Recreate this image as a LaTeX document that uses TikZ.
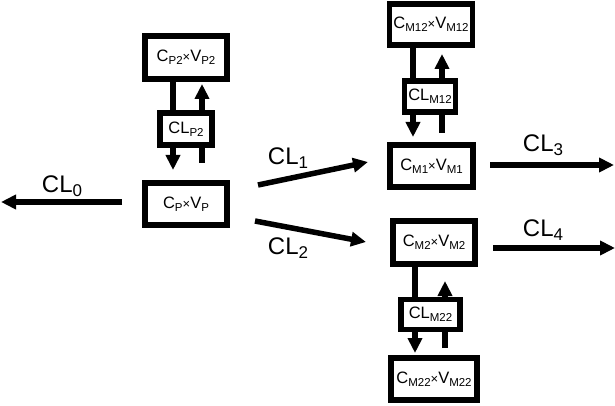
\documentclass[tikz,border=0pt]{standalone}
\usepackage{fontspec}
\setmainfont{Liberation Sans}
\usetikzlibrary{arrows.meta}
\newcommand\sbx[1]{\raisebox{-0.3ex}{\fontsize{11.5}{13}\selectfont #1}}
\newcommand\tms{{\fontsize{13}{14}\selectfont ×}}
\newcommand\sbl[1]{\raisebox{-0.35ex}{\fontsize{17}{19}\selectfont #1}}
\tikzset{
  box/.style={draw, line width=5.5pt, fill=white, inner sep=0pt, font=\fontsize{16.5}{18}\selectfont},
  flow/.style={line width=5.5pt, -{Triangle[length=15pt,width=14pt]}},
  lab/.style={font=\fontsize{24}{26}\selectfont, inner sep=0pt}
}
\begin{document}
\begin{tikzpicture}[x=1pt,y=-1pt]
\useasboundingbox (0,0) rectangle (615,406);
% compartment boxes
\node[box, minimum width=82pt, minimum height=43pt] (P2) at (186,57.5) {C\sbx{P2}\tms V\sbx{P2}};
\node[box, minimum width=82pt, minimum height=42pt] (P) at (186,204) {C\sbx{P}\tms V\sbx{P}};
\node[box, minimum width=83pt, minimum height=41pt] (M12) at (431,24.5) {C\sbx{M12}\tms V\sbx{M12}};
\node[box, minimum width=83pt, minimum height=42pt] (M1) at (431.5,166) {C\sbx{M1}\tms V\sbx{M1}};
\node[box, minimum width=82pt, minimum height=43pt] (M2) at (434,242.5) {C\sbx{M2}\tms V\sbx{M2}};
\node[box, minimum width=86pt, minimum height=42pt] (M22) at (434,379) {C\sbx{M22}\tms V\sbx{M22}};
% vertical exchange arrows
\coordinate (p2d) at (173,170);
\coordinate (p2u) at (202,163);
\draw[flow] (P2.south -| p2d) -- (p2d);
\draw[flow] (p2u) -- (202,84);
\coordinate (m12d) at (413,137);
\coordinate (m12u) at (442,133);
\draw[flow] (M12.south -| m12d) -- (m12d);
\draw[flow] (m12u) -- (442,54);
\coordinate (m22d) at (415,353);
\coordinate (m22u) at (445,348);
\draw[flow] (M2.south -| m22d) -- (m22d);
\draw[flow] (m22u) -- (445,281);
% clearance boxes on top
\node[box, minimum width=52pt, minimum height=32pt] (CLP2) at (186,129) {CL\sbx{P2}};
\node[box, minimum width=51pt, minimum height=31pt] (CLM12) at (430,96.5) {CL\sbx{M12}};
\node[box, minimum width=59pt, minimum height=30pt] (CLM22) at (430.5,314.5) {CL\sbx{M22}};
% outgoing flows
\coordinate (e0) at (1,202);
\coordinate (s0) at (122,202);
\draw[flow] (s0) -- (e0);
\node[lab] (l0) at (62,186) {CL\sbl{0}};
\coordinate (s1) at (258,185);
\coordinate (e1) at (368,162);
\draw[flow] (s1) -- (e1);
\node[lab] (l1) at (288,158) {CL\sbl{1}};
\coordinate (s2) at (255,221);
\coordinate (e2) at (366,242);
\draw[flow] (s2) -- (e2);
\node[lab] (l2) at (288,248) {CL\sbl{2}};
\coordinate (s3) at (490,165);
\coordinate (e3) at (614,165);
\draw[flow] (s3) -- (e3);
\node[lab] (l3) at (543,145) {CL\sbl{3}};
\coordinate (s4) at (493,248);
\coordinate (e4) at (615,248);
\draw[flow] (s4) -- (e4);
\node[lab] (l4) at (543,230) {CL\sbl{4}};
\end{tikzpicture}
\end{document}
